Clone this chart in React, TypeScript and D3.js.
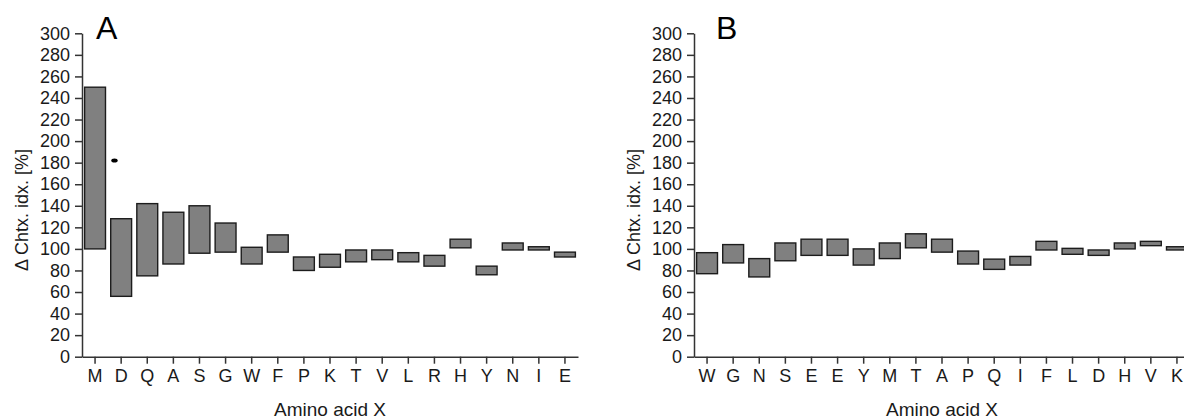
import React, { useEffect, useRef } from 'react'
import * as d3 from 'd3'

// panel A: amino acid order and box ranges (low / high, % of control)
const aminoA = ['M', 'D', 'Q', 'A', 'S', 'G', 'W', 'F', 'P', 'K', 'T', 'V', 'L', 'R', 'H', 'Y', 'N', 'I', 'E']
const lowA = [100, 56, 75, 86, 96, 97, 86, 97, 80, 83, 88, 90, 88, 84, 101, 76, 99, 99, 92.5]
const highA = [250, 128, 142, 134, 140, 124, 101.5, 113, 92.5, 95, 99, 99, 96.5, 94, 109, 84, 105.5, 102, 97]
const dotsA = [{ aa: 'D', value: 182 }]

// panel B
const aminoB = ['W', 'G', 'N', 'S', 'E', 'E', 'Y', 'M', 'T', 'A', 'P', 'Q', 'I', 'F', 'L', 'D', 'H', 'V', 'K']
const lowB = [77, 87, 74, 89, 94, 94, 85, 91, 101, 97, 86, 81, 85, 99, 95, 94, 100, 103, 99]
const highB = [96.5, 104, 91, 105.5, 109, 109, 100, 105.5, 114, 109, 98, 90.5, 93, 107, 100.5, 99, 105.5, 107, 102]

const yTicks = [0, 20, 40, 60, 80, 100, 120, 140, 160, 180, 200, 220, 240, 260, 280, 300]

const W = 1184
const H = 420
const FONT = '"Liberation Sans", Arial, sans-serif'

const App = () => {
    const ref = useRef<SVGSVGElement>(null)

    useEffect(() => {
        const svg = d3.select(ref.current)
        svg.selectAll('*').remove()

        const y = d3.scaleLinear().domain([0, 300]).range([356.7, 33.3])

        const drawPanel = (left: number, letter: string, letterDx: number, amino: string[], low: number[], high: number[], dots: { aa: string, value: number }[]) => {
            const right = left + 496
            const x = d3.scaleBand<number>()
                .domain(amino.map((_, i) => i))
                .range([left, right])
                .paddingInner(0.2)
                .paddingOuter(0.1)

            const g = svg.append('g')

            g.selectAll('rect')
                .data(amino)
                .enter()
                .append('rect')
                .attr('x', (_, i) => x(i)!)
                .attr('y', (_, i) => y(high[i]))
                .attr('width', x.bandwidth())
                .attr('height', (_, i) => y(low[i]) - y(high[i]))
                .attr('fill', '#808080')
                .attr('stroke', '#1c1c1c')
                .attr('stroke-width', 1.4)

            g.selectAll('ellipse')
                .data(dots)
                .enter()
                .append('ellipse')
                .attr('cx', d => x(amino.indexOf(d.aa))! + x.bandwidth() * 0.18)
                .attr('cy', d => y(d.value))
                .attr('rx', 3.2)
                .attr('ry', 2)
                .attr('fill', '#000')

            const yAxis = d3.axisLeft(y).tickValues(yTicks).tickSize(7).tickSizeOuter(0).tickPadding(5)
            const xAxis = d3.axisBottom(x).tickFormat(i => amino[i]).tickSize(7).tickSizeOuter(0).tickPadding(6)

            const ya = g.append('g')
                .attr('transform', `translate(${left}, 0)`)
                .call(yAxis)
            const xa = g.append('g')
                .attr('transform', `translate(0, ${y(0)})`)
                .call(xAxis)

            for (const a of [ya, xa]) {
                a.selectAll('path, line').attr('stroke', '#333').attr('stroke-width', 1.5)
                a.selectAll('text')
                    .attr('fill', '#1a1a1a')
                    .style('font-family', FONT)
                    .style('font-size', '18px')
            }

            g.append('text')
                .text(letter)
                .attr('x', left + letterDx)
                .attr('y', 39)
                .style('font-family', FONT)
                .style('font-size', '32px')
                .attr('fill', '#000')

            g.append('text')
                .text('Amino acid X')
                .attr('x', (left + right) / 2)
                .attr('y', 416)
                .attr('text-anchor', 'middle')
                .attr('fill', '#1a1a1a')
                .style('font-family', FONT)
                .style('font-size', '19px')

            g.append('text')
                .text('Δ Chtx. idx. [%]')
                .attr('transform', `translate(${left - 54}, 210) rotate(-90)`)
                .attr('text-anchor', 'middle')
                .attr('fill', '#1a1a1a')
                .style('font-family', FONT)
                .style('font-size', '18px')
        }

        drawPanel(82, 'A', 14, aminoA, lowA, highA, dotsA)
        drawPanel(694, 'B', 22, aminoB, lowB, highB, [])
    }, [])

    return (
        <svg ref={ref} width={W} height={H} style={{ position: 'absolute', left: 0, top: 0, background: '#fff' }}></svg>
    )
}

export default App
